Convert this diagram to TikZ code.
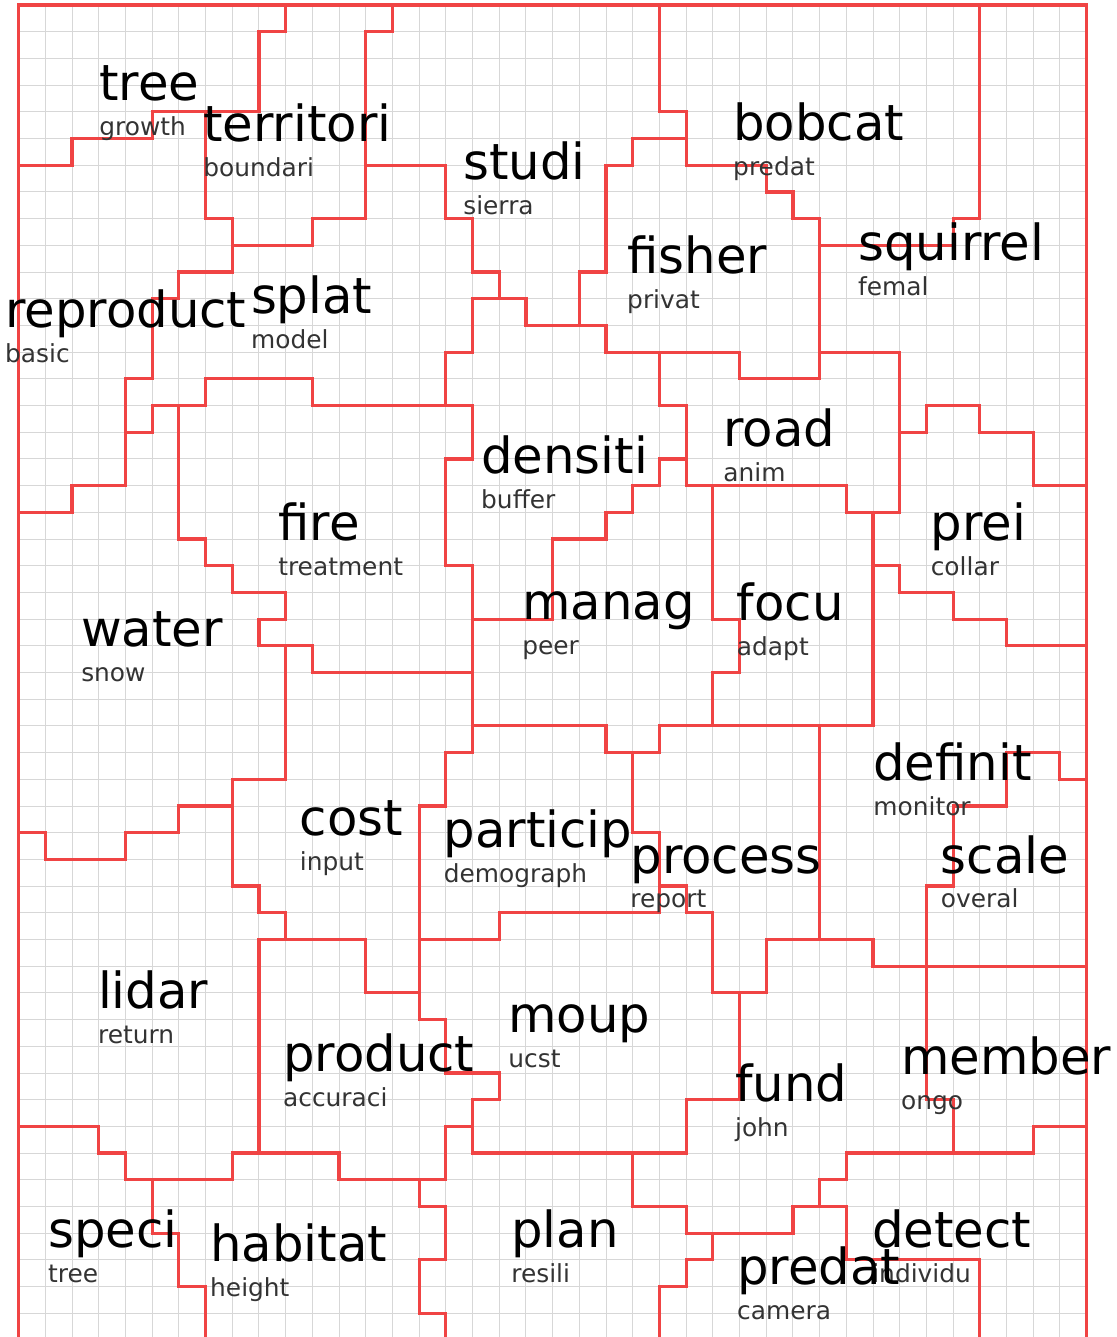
\documentclass[tikz,border=0pt]{standalone}
\usepackage{fontspec}
\setmainfont{DejaVu Sans}
\usepackage{tikz}
\usetikzlibrary{positioning}
\definecolor{regionred}{RGB}{240,68,68}
\definecolor{gridgray}{RGB}{215,215,215}

\begin{document}
\begin{tikzpicture}[
  x=5mm, y=-5mm,
  gridline/.style={draw=gridgray, line width=0.5pt},
  border/.style={draw=regionred, line width=1.7pt, line join=miter, line cap=rect},
  word/.style={anchor=base west, inner sep=0pt, font=\fontsize{26.5}{30}\selectfont},
  subword/.style={inner sep=0pt, text=black!80, font=\fontsize{13.25}{15}\selectfont}
]
\useasboundingbox (-0.70,-0.19) rectangle (41.13,49.89);
% grid
\foreach \c in {1,...,39} \draw[gridline] (\c,0) -- (\c,50);
\foreach \r in {1,...,49} \draw[gridline] (0,\r) -- (40,\r);
% region boundaries
\draw[border] (0,0) rectangle (40,50);
\draw[border] (10,0) -- (10,1) -- (9,1) -- (9,4) -- (5,4) -- (5,5) -- (2,5) -- (2,6) -- (0,6);
\draw[border] (7,4) -- (7,8) -- (8,8) -- (8,10) -- (6,10) -- (6,11) -- (5,11) -- (5,14) -- (4,14) -- (4,18) -- (2,18) -- (2,19) -- (0,19);
\draw[border] (8,9) -- (11,9) -- (11,8) -- (13,8) -- (13,1) -- (14,1) -- (14,0);
\draw[border] (13,6) -- (16,6) -- (16,8) -- (17,8) -- (17,10) -- (18,10) -- (18,11);
\draw[border] (16,15) -- (16,13) -- (17,13) -- (17,11) -- (19,11) -- (19,12) -- (22,12) -- (22,13) -- (27,13) -- (27,14) -- (30,14);
\draw[border] (4,16) -- (5,16) -- (5,15) -- (7,15) -- (7,14) -- (11,14) -- (11,15) -- (17,15) -- (17,17) -- (16,17) -- (16,21) -- (17,21) -- (17,28) -- (16,28) -- (16,30) -- (15,30) -- (15,38) -- (16,38) -- (16,40) -- (18,40) -- (18,41) -- (17,41) -- (17,43) -- (25,43) -- (25,41) -- (27,41) -- (27,37);
\draw[border] (6,15) -- (6,20) -- (7,20) -- (7,21) -- (8,21) -- (8,22) -- (10,22) -- (10,23) -- (9,23) -- (9,24) -- (11,24) -- (11,25) -- (17,25);
\draw[border] (10,24) -- (10,29) -- (8,29) -- (8,33) -- (9,33) -- (9,34) -- (10,34) -- (10,35);
\draw[border] (8,30) -- (6,30) -- (6,31) -- (4,31) -- (4,32) -- (1,32) -- (1,31) -- (0,31);
\draw[border] (9,43) -- (9,35) -- (13,35) -- (13,37) -- (15,37);
\draw[border] (0,42) -- (3,42) -- (3,43) -- (4,43) -- (4,44) -- (8,44) -- (8,43) -- (12,43) -- (12,44) -- (16,44) -- (16,42) -- (17,42);
\draw[border] (5,44) -- (5,46) -- (6,46) -- (6,48) -- (7,48) -- (7,50);
\draw[border] (15,44) -- (15,45) -- (16,45) -- (16,47) -- (15,47) -- (15,49) -- (16,49) -- (16,50);
\draw[border] (23,43) -- (23,45) -- (25,45) -- (25,46) -- (29,46) -- (29,45) -- (31,45) -- (31,47) -- (36,47) -- (36,50);
\draw[border] (30,45) -- (30,44) -- (31,44) -- (31,43) -- (38,43) -- (38,42) -- (40,42);
\draw[border] (26,46) -- (26,47) -- (25,47) -- (25,48) -- (24,48) -- (24,50);
\draw[border] (34,33) -- (34,41) -- (35,41) -- (35,43);
\draw[border] (17,27) -- (22,27) -- (22,28) -- (24,28) -- (24,27) -- (32,27);
\draw[border] (23,28) -- (23,31) -- (24,31) -- (24,34) -- (18,34) -- (18,35) -- (15,35);
\draw[border] (24,33) -- (25,33) -- (25,34) -- (26,34) -- (26,37) -- (28,37) -- (28,35) -- (32,35) -- (32,36) -- (40,36);
\draw[border] (30,27) -- (30,35);
\draw[border] (32,19) -- (32,27);
\draw[border] (32,21) -- (33,21) -- (33,22) -- (35,22) -- (35,23) -- (37,23) -- (37,24) -- (40,24);
\draw[border] (40,29) -- (39,29) -- (39,28) -- (37,28) -- (37,30) -- (35,30) -- (35,33) -- (34,33);
\draw[border] (26,18) -- (26,23) -- (27,23) -- (27,25) -- (26,25) -- (26,27);
\draw[border] (17,23) -- (20,23) -- (20,20) -- (22,20) -- (22,19) -- (23,19) -- (23,18) -- (24,18) -- (24,17) -- (25,17);
\draw[border] (24,13) -- (24,15) -- (25,15) -- (25,18) -- (31,18) -- (31,19) -- (33,19) -- (33,13) -- (30,13);
\draw[border] (24,0) -- (24,4) -- (25,4) -- (25,6) -- (28,6) -- (28,7) -- (29,7) -- (29,8) -- (30,8) -- (30,14);
\draw[border] (30,9) -- (35,9) -- (35,8) -- (36,8) -- (36,0);
\draw[border] (25,5) -- (23,5) -- (23,6) -- (22,6) -- (22,10) -- (21,10) -- (21,12);
\draw[border] (33,16) -- (34,16) -- (34,15) -- (36,15) -- (36,16) -- (38,16) -- (38,18) -- (40,18);
% topic words
\node[word] (tree) at (3.01,3.58) {tree};
\node[subword, below=6.55mm of tree.base west, anchor=base west] (tree-sub) {growth};
\node[word] (territori) at (6.90,5.12) {territori};
\node[subword, below=6.55mm of territori.base west, anchor=base west] (territori-sub) {boundari};
\node[word] (studi) at (16.64,6.55) {studi};
\node[subword, below=6.55mm of studi.base west, anchor=base west] (studi-sub) {sierra};
\node[word] (bobcat) at (26.75,5.06) {bobcat};
\node[subword, below=6.55mm of bobcat.base west, anchor=base west] (bobcat-sub) {predat};
\node[word] (fisher) at (22.78,10.07) {fisher};
\node[subword, below=6.55mm of fisher.base west, anchor=base west] (fisher-sub) {privat};
\node[word] (squirrel) at (31.43,9.55) {squirrel};
\node[subword, below=6.55mm of squirrel.base west, anchor=base west] (squirrel-sub) {femal};
\node[word] (reproduct) at (-0.52,12.06) {reproduct};
\node[subword, below=6.55mm of reproduct.base west, anchor=base west] (reproduct-sub) {basic};
\node[word] (splat) at (8.69,11.54) {splat};
\node[subword, below=6.55mm of splat.base west, anchor=base west] (splat-sub) {model};
\node[word] (densiti) at (17.31,17.53) {densiti};
\node[subword, below=6.55mm of densiti.base west, anchor=base west] (densiti-sub) {buffer};
\node[word] (road) at (26.38,16.55) {road};
\node[subword, below=6.55mm of road.base west, anchor=base west] (road-sub) {anim};
\node[word] (fire) at (9.71,20.07) {fire};
\node[subword, below=6.55mm of fire.base west, anchor=base west] (fire-sub) {treatment};
\node[word] (prei) at (34.15,20.07) {prei};
\node[subword, below=6.55mm of prei.base west, anchor=base west] (prei-sub) {collar};
\node[word] (manag) at (18.85,23.03) {manag};
\node[subword, below=6.55mm of manag.base west, anchor=base west] (manag-sub) {peer};
\node[word] (focu) at (26.89,23.07) {focu};
\node[subword, below=6.55mm of focu.base west, anchor=base west] (focu-sub) {adapt};
\node[word] (water) at (2.33,24.04) {water};
\node[subword, below=6.55mm of water.base west, anchor=base west] (water-sub) {snow};
\node[word] (definit) at (32.00,29.06) {definit};
\node[subword, below=6.55mm of definit.base west, anchor=base west] (definit-sub) {monitor};
\node[word] (cost) at (10.52,31.09) {cost};
\node[subword, below=6.55mm of cost.base west, anchor=base west] (cost-sub) {input};
\node[word] (particip) at (15.91,31.57) {particip};
\node[subword, below=6.55mm of particip.base west, anchor=base west] (particip-sub) {demograph};
\node[word] (process) at (22.90,32.51) {process};
\node[subword, below=6.55mm of process.base west, anchor=base west] (process-sub) {report};
\node[word] (scale) at (34.53,32.51) {scale};
\node[subword, below=6.55mm of scale.base west, anchor=base west] (scale-sub) {overal};
\node[word] (lidar) at (2.96,37.57) {lidar};
\node[subword, below=6.55mm of lidar.base west, anchor=base west] (lidar-sub) {return};
\node[word] (product) at (9.89,39.96) {product};
\node[subword, below=6.55mm of product.base west, anchor=base west] (product-sub) {accuraci};
\node[word] (moup) at (18.33,38.50) {moup};
\node[subword, below=6.55mm of moup.base west, anchor=base west] (moup-sub) {ucst};
\node[word] (fund) at (26.82,41.07) {fund};
\node[subword, below=6.55mm of fund.base west, anchor=base west] (fund-sub) {john};
\node[word] (member) at (33.04,40.07) {member};
\node[subword, below=6.55mm of member.base west, anchor=base west] (member-sub) {ongo};
\node[word] (speci) at (1.09,46.52) {speci};
\node[subword, below=6.55mm of speci.base west, anchor=base west] (speci-sub) {tree};
\node[word] (habitat) at (7.16,47.08) {habitat};
\node[subword, below=6.55mm of habitat.base west, anchor=base west] (habitat-sub) {height};
\node[word] (plan) at (18.44,46.55) {plan};
\node[subword, below=6.55mm of plan.base west, anchor=base west] (plan-sub) {resili};
\node[word] (detect) at (31.96,46.52) {detect};
\node[subword, below=6.55mm of detect.base west, anchor=base west] (detect-sub) {individu};
\node[word] (predat) at (26.90,47.94) {predat};
\node[subword, below=6.55mm of predat.base west, anchor=base west] (predat-sub) {camera};
\end{tikzpicture}
\end{document}
